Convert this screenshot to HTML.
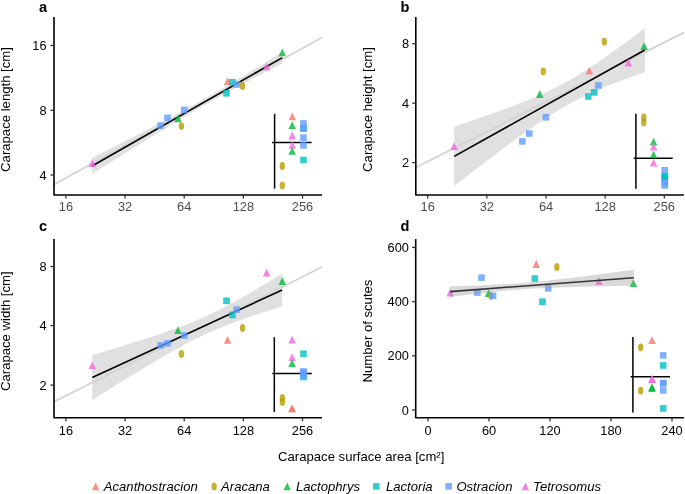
<!DOCTYPE html>
<html><head><meta charset="utf-8"><style>
html,body{margin:0;padding:0;background:#fff;}
svg{display:block;font-family:"Liberation Sans", sans-serif;will-change:transform;}
</style></head><body>
<svg width="685" height="494" viewBox="0 0 685 494">
<rect width="685" height="494" fill="#fff"/>
<text x="39" y="11.7" font-size="14.6" font-weight="bold" fill="#000">a</text>
<text transform="translate(10.1,109.5) rotate(-90)" text-anchor="middle" font-size="13.13" fill="#000">Carapace length [cm]</text>
<path d="M92.10 158.10 L96.98 155.60 L101.85 153.10 L106.73 150.60 L111.61 148.10 L116.48 145.60 L121.36 143.09 L126.24 140.57 L131.12 138.05 L135.99 135.53 L140.87 133.00 L145.75 130.47 L150.62 127.92 L155.50 125.37 L160.38 122.81 L165.25 120.23 L170.13 117.64 L175.01 115.04 L179.88 112.41 L184.76 109.77 L189.64 107.10 L194.52 104.40 L199.39 101.68 L204.27 98.93 L209.15 96.14 L214.02 93.33 L218.90 90.49 L223.78 87.62 L228.65 84.72 L233.53 81.80 L238.41 78.86 L243.28 75.90 L248.16 72.93 L253.04 69.94 L257.92 66.94 L262.79 63.93 L267.67 60.91 L272.55 57.89 L277.42 54.86 L282.30 51.82 L282.30 63.38 L277.42 65.90 L272.55 68.43 L267.67 70.96 L262.79 73.50 L257.92 76.05 L253.04 78.61 L248.16 81.19 L243.28 83.77 L238.41 86.37 L233.53 88.99 L228.65 91.63 L223.78 94.29 L218.90 96.98 L214.02 99.70 L209.15 102.44 L204.27 105.22 L199.39 108.02 L194.52 110.86 L189.64 113.72 L184.76 116.61 L179.88 119.52 L175.01 122.46 L170.13 125.41 L165.25 128.38 L160.38 131.37 L155.50 134.36 L150.62 137.37 L145.75 140.38 L140.87 143.41 L135.99 146.44 L131.12 149.47 L126.24 152.51 L121.36 155.56 L116.48 158.61 L111.61 161.66 L106.73 164.72 L101.85 167.78 L96.98 170.84 L92.10 173.90Z" fill="#999999" fill-opacity="0.3"/>
<line x1="54" y1="184.6" x2="322" y2="37.6" stroke="#D3D3D3" stroke-width="1.75"/>
<line x1="92.1" y1="166.0" x2="282.3" y2="57.6" stroke="#000" stroke-width="1.6"/>
<path d="M92.30 159.30L96.05 167.10L88.55 167.10Z" fill="#F564E3" fill-opacity="0.8"/>
<rect x="157.30" y="122.30" width="6.6" height="6.6" fill="#619CFF" fill-opacity="0.8"/>
<rect x="164.20" y="114.50" width="6.6" height="6.6" fill="#619CFF" fill-opacity="0.8"/>
<path d="M178.00 114.50L181.75 122.30L174.25 122.30Z" fill="#00BA38" fill-opacity="0.8"/>
<ellipse cx="181.40" cy="126.10" rx="2.7" ry="3.9" fill="#B79F00" fill-opacity="0.8"/>
<rect x="180.90" y="106.60" width="6.6" height="6.6" fill="#619CFF" fill-opacity="0.8"/>
<path d="M227.60 77.30L231.35 85.10L223.85 85.10Z" fill="#F8766D" fill-opacity="0.8"/>
<rect x="229.10" y="78.90" width="6.6" height="6.6" fill="#00BFC4" fill-opacity="0.8"/>
<rect x="233.30" y="81.20" width="6.6" height="6.6" fill="#619CFF" fill-opacity="0.8"/>
<ellipse cx="242.50" cy="86.00" rx="2.7" ry="3.9" fill="#B79F00" fill-opacity="0.8"/>
<rect x="223.20" y="90.00" width="6.6" height="6.6" fill="#00BFC4" fill-opacity="0.8"/>
<path d="M266.60 62.50L270.35 70.30L262.85 70.30Z" fill="#F564E3" fill-opacity="0.8"/>
<path d="M282.30 48.50L286.05 56.30L278.55 56.30Z" fill="#00BA38" fill-opacity="0.8"/>
<path d="M54 17L54 195L322 195" fill="none" stroke="#000" stroke-width="1.6" stroke-linejoin="round"/>
<line x1="50.4" y1="45.5" x2="54" y2="45.5" stroke="#333" stroke-width="1.3"/>
<text x="46.60" y="50.00" text-anchor="end" fill="#000" font-size="12.8">16</text>
<line x1="50.4" y1="110.3" x2="54" y2="110.3" stroke="#333" stroke-width="1.3"/>
<text x="46.60" y="114.80" text-anchor="end" fill="#000" font-size="12.8">8</text>
<line x1="50.4" y1="175" x2="54" y2="175" stroke="#333" stroke-width="1.3"/>
<text x="46.60" y="179.50" text-anchor="end" fill="#000" font-size="12.8">4</text>
<line x1="65.9" y1="195" x2="65.9" y2="198.6" stroke="#333" stroke-width="1.3"/>
<text x="65.9" y="211.30" text-anchor="middle" fill="#4D4D4D" font-size="12.8">16</text>
<line x1="125.05" y1="195" x2="125.05" y2="198.6" stroke="#333" stroke-width="1.3"/>
<text x="125.05" y="211.30" text-anchor="middle" fill="#4D4D4D" font-size="12.8">32</text>
<line x1="184.2" y1="195" x2="184.2" y2="198.6" stroke="#333" stroke-width="1.3"/>
<text x="184.2" y="211.30" text-anchor="middle" fill="#4D4D4D" font-size="12.8">64</text>
<line x1="243.35" y1="195" x2="243.35" y2="198.6" stroke="#333" stroke-width="1.3"/>
<text x="243.35" y="211.30" text-anchor="middle" fill="#4D4D4D" font-size="12.8">128</text>
<line x1="302.5" y1="195" x2="302.5" y2="198.6" stroke="#333" stroke-width="1.3"/>
<text x="302.5" y="211.30" text-anchor="middle" fill="#4D4D4D" font-size="12.8">256</text>
<text x="400.6" y="11.7" font-size="14.6" font-weight="bold" fill="#000">b</text>
<text transform="translate(371.9,109.5) rotate(-90)" text-anchor="middle" font-size="13.13" fill="#000">Carapace height [cm]</text>
<path d="M454.20 126.69 L459.09 125.04 L463.97 123.37 L468.86 121.70 L473.75 120.01 L478.64 118.31 L483.52 116.60 L488.41 114.88 L493.30 113.14 L498.18 111.38 L503.07 109.59 L507.96 107.78 L512.85 105.94 L517.73 104.07 L522.62 102.15 L527.51 100.19 L532.39 98.18 L537.28 96.10 L542.17 93.95 L547.06 91.72 L551.94 89.40 L556.83 86.98 L561.72 84.45 L566.61 81.81 L571.49 79.05 L576.38 76.18 L581.27 73.20 L586.15 70.11 L591.04 66.93 L595.93 63.66 L600.82 60.32 L605.70 56.91 L610.59 53.44 L615.48 49.92 L620.36 46.36 L625.25 42.76 L630.14 39.13 L635.03 35.47 L639.91 31.78 L644.80 28.08 L644.80 71.92 L639.91 73.67 L635.03 75.45 L630.14 77.24 L625.25 79.07 L620.36 80.92 L615.48 82.82 L610.59 84.76 L605.70 86.74 L600.82 88.79 L595.93 90.90 L591.04 93.09 L586.15 95.36 L581.27 97.73 L576.38 100.21 L571.49 102.79 L566.61 105.49 L561.72 108.31 L556.83 111.23 L551.94 114.27 L547.06 117.41 L542.17 120.63 L537.28 123.94 L532.39 127.32 L527.51 130.76 L522.62 134.26 L517.73 137.80 L512.85 141.38 L507.96 145.00 L503.07 148.64 L498.18 152.32 L493.30 156.01 L488.41 159.73 L483.52 163.46 L478.64 167.20 L473.75 170.96 L468.86 174.73 L463.97 178.52 L459.09 182.31 L454.20 186.11Z" fill="#999999" fill-opacity="0.3"/>
<line x1="415.8" y1="167.5" x2="683.8" y2="32.6" stroke="#D3D3D3" stroke-width="1.75"/>
<line x1="454.2" y1="156.4" x2="644.8" y2="50.0" stroke="#000" stroke-width="1.6"/>
<path d="M454.10 142.30L457.85 150.10L450.35 150.10Z" fill="#F564E3" fill-opacity="0.8"/>
<rect x="519.10" y="138.10" width="6.6" height="6.6" fill="#619CFF" fill-opacity="0.8"/>
<rect x="526.00" y="130.20" width="6.6" height="6.6" fill="#619CFF" fill-opacity="0.8"/>
<path d="M539.80 90.10L543.55 97.90L536.05 97.90Z" fill="#00BA38" fill-opacity="0.8"/>
<ellipse cx="543.20" cy="71.30" rx="2.7" ry="3.9" fill="#B79F00" fill-opacity="0.8"/>
<rect x="542.70" y="114.00" width="6.6" height="6.6" fill="#619CFF" fill-opacity="0.8"/>
<path d="M589.40 66.70L593.15 74.50L585.65 74.50Z" fill="#F8766D" fill-opacity="0.8"/>
<rect x="590.90" y="89.10" width="6.6" height="6.6" fill="#00BFC4" fill-opacity="0.8"/>
<rect x="595.10" y="82.20" width="6.6" height="6.6" fill="#619CFF" fill-opacity="0.8"/>
<ellipse cx="604.30" cy="41.70" rx="2.7" ry="3.9" fill="#B79F00" fill-opacity="0.8"/>
<rect x="585.00" y="93.20" width="6.6" height="6.6" fill="#00BFC4" fill-opacity="0.8"/>
<path d="M628.40 58.60L632.15 66.40L624.65 66.40Z" fill="#F564E3" fill-opacity="0.8"/>
<path d="M644.10 42.30L647.85 50.10L640.35 50.10Z" fill="#00BA38" fill-opacity="0.8"/>
<path d="M415.8 17L415.8 195L683.8 195" fill="none" stroke="#000" stroke-width="1.6" stroke-linejoin="round"/>
<line x1="412.2" y1="43.7" x2="415.8" y2="43.7" stroke="#333" stroke-width="1.3"/>
<text x="409.00" y="48.20" text-anchor="end" fill="#000" font-size="12.8">8</text>
<line x1="412.2" y1="103.2" x2="415.8" y2="103.2" stroke="#333" stroke-width="1.3"/>
<text x="409.00" y="107.70" text-anchor="end" fill="#000" font-size="12.8">4</text>
<line x1="412.2" y1="162.6" x2="415.8" y2="162.6" stroke="#333" stroke-width="1.3"/>
<text x="409.00" y="167.10" text-anchor="end" fill="#000" font-size="12.8">2</text>
<line x1="427.70000000000005" y1="195" x2="427.70000000000005" y2="198.6" stroke="#333" stroke-width="1.3"/>
<text x="427.70000000000005" y="211.30" text-anchor="middle" fill="#4D4D4D" font-size="12.8">16</text>
<line x1="486.85" y1="195" x2="486.85" y2="198.6" stroke="#333" stroke-width="1.3"/>
<text x="486.85" y="211.30" text-anchor="middle" fill="#4D4D4D" font-size="12.8">32</text>
<line x1="546.0" y1="195" x2="546.0" y2="198.6" stroke="#333" stroke-width="1.3"/>
<text x="546.0" y="211.30" text-anchor="middle" fill="#4D4D4D" font-size="12.8">64</text>
<line x1="605.15" y1="195" x2="605.15" y2="198.6" stroke="#333" stroke-width="1.3"/>
<text x="605.15" y="211.30" text-anchor="middle" fill="#4D4D4D" font-size="12.8">128</text>
<line x1="664.3" y1="195" x2="664.3" y2="198.6" stroke="#333" stroke-width="1.3"/>
<text x="664.3" y="211.30" text-anchor="middle" fill="#4D4D4D" font-size="12.8">256</text>
<text x="39" y="231.1" font-size="14.6" font-weight="bold" fill="#000">c</text>
<text transform="translate(10.1,331.2) rotate(-90)" text-anchor="middle" font-size="13.13" fill="#000">Carapace width [cm]</text>
<path d="M92.30 355.06 L97.17 353.63 L102.04 352.18 L106.91 350.73 L111.78 349.27 L116.65 347.80 L121.52 346.33 L126.38 344.84 L131.25 343.34 L136.12 341.82 L140.99 340.29 L145.86 338.74 L150.73 337.16 L155.60 335.56 L160.47 333.93 L165.34 332.27 L170.21 330.57 L175.08 328.81 L179.95 327.01 L184.82 325.15 L189.68 323.22 L194.55 321.21 L199.42 319.13 L204.29 316.96 L209.16 314.70 L214.03 312.36 L218.90 309.94 L223.77 307.43 L228.64 304.86 L233.51 302.21 L238.38 299.51 L243.25 296.76 L248.12 293.97 L252.98 291.13 L257.85 288.27 L262.72 285.37 L267.59 282.45 L272.46 279.51 L277.33 276.55 L282.20 273.58 L282.20 306.42 L277.33 307.93 L272.46 309.46 L267.59 311.01 L262.72 312.58 L257.85 314.17 L252.98 315.79 L248.12 317.44 L243.25 319.13 L238.38 320.87 L233.51 322.66 L228.64 324.50 L223.77 326.41 L218.90 328.40 L214.03 330.46 L209.16 332.60 L204.29 334.84 L199.42 337.15 L194.55 339.56 L189.68 342.04 L184.82 344.59 L179.95 347.22 L175.08 349.90 L170.21 352.64 L165.34 355.42 L160.47 358.25 L155.60 361.10 L150.73 363.99 L145.86 366.90 L140.99 369.84 L136.12 372.79 L131.25 375.77 L126.38 378.75 L121.52 381.75 L116.65 384.76 L111.78 387.78 L106.91 390.81 L102.04 393.84 L97.17 396.89 L92.30 399.94Z" fill="#999999" fill-opacity="0.3"/>
<line x1="54" y1="401.7" x2="322" y2="267.0" stroke="#D3D3D3" stroke-width="1.75"/>
<line x1="92.3" y1="377.5" x2="282.2" y2="290" stroke="#000" stroke-width="1.6"/>
<path d="M92.30 361.50L96.05 369.30L88.55 369.30Z" fill="#F564E3" fill-opacity="0.8"/>
<rect x="157.30" y="342.10" width="6.6" height="6.6" fill="#619CFF" fill-opacity="0.8"/>
<rect x="164.20" y="340.10" width="6.6" height="6.6" fill="#619CFF" fill-opacity="0.8"/>
<path d="M178.00 326.20L181.75 334.00L174.25 334.00Z" fill="#00BA38" fill-opacity="0.8"/>
<ellipse cx="181.40" cy="354.00" rx="2.7" ry="3.9" fill="#B79F00" fill-opacity="0.8"/>
<rect x="180.90" y="332.20" width="6.6" height="6.6" fill="#619CFF" fill-opacity="0.8"/>
<path d="M227.60 335.90L231.35 343.70L223.85 343.70Z" fill="#F8766D" fill-opacity="0.8"/>
<rect x="229.10" y="311.70" width="6.6" height="6.6" fill="#00BFC4" fill-opacity="0.8"/>
<rect x="233.30" y="306.40" width="6.6" height="6.6" fill="#619CFF" fill-opacity="0.8"/>
<ellipse cx="242.50" cy="328.00" rx="2.7" ry="3.9" fill="#B79F00" fill-opacity="0.8"/>
<rect x="223.20" y="297.50" width="6.6" height="6.6" fill="#00BFC4" fill-opacity="0.8"/>
<path d="M266.60 268.70L270.35 276.50L262.85 276.50Z" fill="#F564E3" fill-opacity="0.8"/>
<path d="M282.30 277.30L286.05 285.10L278.55 285.10Z" fill="#00BA38" fill-opacity="0.8"/>
<path d="M54 239L54 417.7L322 417.7" fill="none" stroke="#000" stroke-width="1.6" stroke-linejoin="round"/>
<line x1="50.4" y1="266.5" x2="54" y2="266.5" stroke="#333" stroke-width="1.3"/>
<text x="46.60" y="271.00" text-anchor="end" fill="#000" font-size="12.8">8</text>
<line x1="50.4" y1="325.6" x2="54" y2="325.6" stroke="#333" stroke-width="1.3"/>
<text x="46.60" y="330.10" text-anchor="end" fill="#000" font-size="12.8">4</text>
<line x1="50.4" y1="385.1" x2="54" y2="385.1" stroke="#333" stroke-width="1.3"/>
<text x="46.60" y="389.60" text-anchor="end" fill="#000" font-size="12.8">2</text>
<line x1="65.9" y1="417.7" x2="65.9" y2="421.3" stroke="#333" stroke-width="1.3"/>
<text x="65.9" y="434.60" text-anchor="middle" fill="#000" font-size="12.8">16</text>
<line x1="125.05" y1="417.7" x2="125.05" y2="421.3" stroke="#333" stroke-width="1.3"/>
<text x="125.05" y="434.60" text-anchor="middle" fill="#000" font-size="12.8">32</text>
<line x1="184.2" y1="417.7" x2="184.2" y2="421.3" stroke="#333" stroke-width="1.3"/>
<text x="184.2" y="434.60" text-anchor="middle" fill="#000" font-size="12.8">64</text>
<line x1="243.35" y1="417.7" x2="243.35" y2="421.3" stroke="#333" stroke-width="1.3"/>
<text x="243.35" y="434.60" text-anchor="middle" fill="#000" font-size="12.8">128</text>
<line x1="302.5" y1="417.7" x2="302.5" y2="421.3" stroke="#333" stroke-width="1.3"/>
<text x="302.5" y="434.60" text-anchor="middle" fill="#000" font-size="12.8">256</text>
<text x="400.6" y="231.1" font-size="14.6" font-weight="bold" fill="#000">d</text>
<text transform="translate(371.9,331) rotate(-90)" text-anchor="middle" font-size="13.13" fill="#000">Number of scutes</text>
<path d="M450.17 288.60L453.92 296.40L446.42 296.40Z" fill="#F564E3" fill-opacity="0.8"/>
<rect x="474.05" y="289.30" width="6.6" height="6.6" fill="#619CFF" fill-opacity="0.8"/>
<rect x="478.20" y="274.30" width="6.6" height="6.6" fill="#619CFF" fill-opacity="0.8"/>
<path d="M488.51 289.30L492.26 297.10L484.76 297.10Z" fill="#00BA38" fill-opacity="0.8"/>
<ellipse cx="490.97" cy="295.80" rx="2.7" ry="3.9" fill="#B79F00" fill-opacity="0.8"/>
<rect x="489.77" y="292.50" width="6.6" height="6.6" fill="#619CFF" fill-opacity="0.8"/>
<path d="M536.20 260.10L539.95 267.90L532.45 267.90Z" fill="#F8766D" fill-opacity="0.8"/>
<rect x="539.17" y="298.40" width="6.6" height="6.6" fill="#00BFC4" fill-opacity="0.8"/>
<rect x="544.94" y="285.00" width="6.6" height="6.6" fill="#619CFF" fill-opacity="0.8"/>
<ellipse cx="556.85" cy="267.00" rx="2.7" ry="3.9" fill="#B79F00" fill-opacity="0.8"/>
<rect x="531.52" y="275.20" width="6.6" height="6.6" fill="#00BFC4" fill-opacity="0.8"/>
<path d="M598.89 277.10L602.64 284.90L595.14 284.90Z" fill="#F564E3" fill-opacity="0.8"/>
<path d="M633.41 279.30L637.16 287.10L629.66 287.10Z" fill="#00BA38" fill-opacity="0.8"/>
<path d="M450.10 286.27 L454.81 286.15 L459.52 286.02 L464.23 285.89 L468.94 285.74 L473.65 285.59 L478.36 285.43 L483.07 285.25 L487.78 285.05 L492.49 284.84 L497.20 284.61 L501.91 284.36 L506.62 284.08 L511.33 283.78 L516.04 283.45 L520.75 283.09 L525.46 282.70 L530.17 282.29 L534.88 281.85 L539.59 281.38 L544.31 280.90 L549.02 280.39 L553.73 279.87 L558.44 279.34 L563.15 278.79 L567.86 278.22 L572.57 277.65 L577.28 277.07 L581.99 276.48 L586.70 275.89 L591.41 275.29 L596.12 274.69 L600.83 274.08 L605.54 273.46 L610.25 272.85 L614.96 272.23 L619.67 271.60 L624.38 270.98 L629.09 270.35 L633.80 269.72 L633.80 285.68 L629.09 285.76 L624.38 285.85 L619.67 285.93 L614.96 286.03 L610.25 286.12 L605.54 286.21 L600.83 286.31 L596.12 286.42 L591.41 286.53 L586.70 286.64 L581.99 286.76 L577.28 286.88 L572.57 287.01 L567.86 287.16 L563.15 287.31 L558.44 287.47 L553.73 287.65 L549.02 287.84 L544.31 288.05 L539.59 288.27 L534.88 288.52 L530.17 288.80 L525.46 289.09 L520.75 289.42 L516.04 289.77 L511.33 290.16 L506.62 290.57 L501.91 291.00 L497.20 291.46 L492.49 291.94 L487.78 292.44 L483.07 292.96 L478.36 293.50 L473.65 294.04 L468.94 294.60 L464.23 295.17 L459.52 295.75 L454.81 296.34 L450.10 296.93Z" fill="#999999" fill-opacity="0.37"/>
<line x1="450.1" y1="291.6" x2="633.8" y2="277.7" stroke="#333" stroke-width="1.6"/>
<path d="M415.7 239L415.7 417.8L683.9 417.8" fill="none" stroke="#000" stroke-width="1.6" stroke-linejoin="round"/>
<line x1="412.09999999999997" y1="410.0" x2="415.7" y2="410.0" stroke="#333" stroke-width="1.3"/>
<text x="408.90" y="414.50" text-anchor="end" fill="#000" font-size="12.8">0</text>
<line x1="412.09999999999997" y1="355.8" x2="415.7" y2="355.8" stroke="#333" stroke-width="1.3"/>
<text x="408.90" y="360.30" text-anchor="end" fill="#000" font-size="12.8">200</text>
<line x1="412.09999999999997" y1="301.6" x2="415.7" y2="301.6" stroke="#333" stroke-width="1.3"/>
<text x="408.90" y="306.10" text-anchor="end" fill="#000" font-size="12.8">400</text>
<line x1="412.09999999999997" y1="247.4" x2="415.7" y2="247.4" stroke="#333" stroke-width="1.3"/>
<text x="408.90" y="251.90" text-anchor="end" fill="#000" font-size="12.8">600</text>
<line x1="428" y1="417.8" x2="428" y2="421.40000000000003" stroke="#333" stroke-width="1.3"/>
<text x="428" y="434.70" text-anchor="middle" fill="#000" font-size="12.8">0</text>
<line x1="489" y1="417.8" x2="489" y2="421.40000000000003" stroke="#333" stroke-width="1.3"/>
<text x="489" y="434.70" text-anchor="middle" fill="#000" font-size="12.8">60</text>
<line x1="550" y1="417.8" x2="550" y2="421.40000000000003" stroke="#333" stroke-width="1.3"/>
<text x="550" y="434.70" text-anchor="middle" fill="#000" font-size="12.8">120</text>
<line x1="611" y1="417.8" x2="611" y2="421.40000000000003" stroke="#333" stroke-width="1.3"/>
<text x="611" y="434.70" text-anchor="middle" fill="#000" font-size="12.8">180</text>
<line x1="672" y1="417.8" x2="672" y2="421.40000000000003" stroke="#333" stroke-width="1.3"/>
<text x="672" y="434.70" text-anchor="middle" fill="#000" font-size="12.8">240</text>
<line x1="274.6" y1="113.8" x2="274.6" y2="188.7" stroke="#000" stroke-width="1.5"/>
<line x1="272.1" y1="142.5" x2="311.6" y2="142.5" stroke="#000" stroke-width="1.5"/>
<ellipse cx="282.30" cy="166.00" rx="2.7" ry="3.9" fill="#B79F00" fill-opacity="0.8"/>
<ellipse cx="282.30" cy="185.40" rx="2.7" ry="3.9" fill="#B79F00" fill-opacity="0.8"/>
<path d="M292.20 112.40L295.95 120.20L288.45 120.20Z" fill="#F8766D" fill-opacity="0.8"/>
<path d="M292.20 121.30L295.95 129.10L288.45 129.10Z" fill="#00BA38" fill-opacity="0.8"/>
<path d="M292.20 131.60L295.95 139.40L288.45 139.40Z" fill="#F564E3" fill-opacity="0.8"/>
<path d="M292.20 141.00L295.95 148.80L288.45 148.80Z" fill="#F564E3" fill-opacity="0.8"/>
<path d="M292.20 147.00L295.95 154.80L288.45 154.80Z" fill="#00BA38" fill-opacity="0.8"/>
<rect x="300.20" y="156.70" width="6.6" height="6.6" fill="#00BFC4" fill-opacity="0.8"/>
<rect x="300.20" y="125.30" width="6.6" height="6.6" fill="#00BFC4" fill-opacity="0.8"/>
<rect x="300.20" y="120.10" width="6.6" height="6.6" fill="#619CFF" fill-opacity="0.8"/>
<rect x="300.20" y="125.30" width="6.6" height="6.6" fill="#619CFF" fill-opacity="0.8"/>
<rect x="300.20" y="134.30" width="6.6" height="6.6" fill="#619CFF" fill-opacity="0.8"/>
<rect x="300.20" y="142.10" width="6.6" height="6.6" fill="#619CFF" fill-opacity="0.8"/>
<line x1="635.9" y1="113.7" x2="635.9" y2="188.8" stroke="#000" stroke-width="1.5"/>
<line x1="633.7" y1="158.3" x2="672.7" y2="158.3" stroke="#000" stroke-width="1.5"/>
<ellipse cx="643.80" cy="117.30" rx="2.7" ry="3.9" fill="#B79F00" fill-opacity="0.8"/>
<ellipse cx="643.80" cy="122.50" rx="2.7" ry="3.9" fill="#B79F00" fill-opacity="0.8"/>
<path d="M653.60 137.80L657.35 145.60L649.85 145.60Z" fill="#00BA38" fill-opacity="0.8"/>
<path d="M653.60 142.80L657.35 150.60L649.85 150.60Z" fill="#F564E3" fill-opacity="0.8"/>
<path d="M653.60 150.40L657.35 158.20L649.85 158.20Z" fill="#00BA38" fill-opacity="0.8"/>
<path d="M653.60 158.80L657.35 166.60L649.85 166.60Z" fill="#F564E3" fill-opacity="0.8"/>
<rect x="661.50" y="167.00" width="6.6" height="6.6" fill="#619CFF" fill-opacity="0.8"/>
<rect x="661.50" y="175.70" width="6.6" height="6.6" fill="#619CFF" fill-opacity="0.8"/>
<rect x="661.50" y="179.70" width="6.6" height="6.6" fill="#619CFF" fill-opacity="0.8"/>
<rect x="661.50" y="182.20" width="6.6" height="6.6" fill="#619CFF" fill-opacity="0.8"/>
<rect x="661.50" y="172.90" width="6.6" height="6.6" fill="#00BFC4" fill-opacity="0.8"/>
<rect x="661.50" y="173.20" width="6.6" height="6.6" fill="#00BFC4" fill-opacity="0.8"/>
<line x1="274.3" y1="337.2" x2="274.3" y2="412.1" stroke="#000" stroke-width="1.5"/>
<line x1="272.3" y1="373.6" x2="311.8" y2="373.6" stroke="#000" stroke-width="1.5"/>
<ellipse cx="282.40" cy="398.00" rx="2.7" ry="3.9" fill="#B79F00" fill-opacity="0.8"/>
<ellipse cx="282.40" cy="402.00" rx="2.7" ry="3.9" fill="#B79F00" fill-opacity="0.8"/>
<path d="M292.10 335.80L295.85 343.60L288.35 343.60Z" fill="#F564E3" fill-opacity="0.8"/>
<path d="M292.10 353.30L295.85 361.10L288.35 361.10Z" fill="#F564E3" fill-opacity="0.8"/>
<path d="M292.10 359.20L295.85 367.00L288.35 367.00Z" fill="#00BA38" fill-opacity="0.8"/>
<path d="M292.10 404.40L295.85 412.20L288.35 412.20Z" fill="#F8766D" fill-opacity="0.8"/>
<path d="M292.10 404.40L295.85 412.20L288.35 412.20Z" fill="#F8766D" fill-opacity="0.8"/>
<rect x="300.20" y="350.40" width="6.6" height="6.6" fill="#00BFC4" fill-opacity="0.8"/>
<rect x="300.20" y="373.70" width="6.6" height="6.6" fill="#00BFC4" fill-opacity="0.8"/>
<rect x="300.20" y="368.20" width="6.6" height="6.6" fill="#619CFF" fill-opacity="0.8"/>
<rect x="300.20" y="371.70" width="6.6" height="6.6" fill="#619CFF" fill-opacity="0.8"/>
<rect x="300.20" y="370.70" width="6.6" height="6.6" fill="#619CFF" fill-opacity="0.8"/>
<rect x="300.20" y="369.70" width="6.6" height="6.6" fill="#619CFF" fill-opacity="0.8"/>
<line x1="632.9" y1="336.9" x2="632.9" y2="412.5" stroke="#000" stroke-width="1.5"/>
<line x1="630.6" y1="376.7" x2="670" y2="376.7" stroke="#000" stroke-width="1.5"/>
<ellipse cx="640.70" cy="347.30" rx="2.7" ry="3.9" fill="#B79F00" fill-opacity="0.8"/>
<ellipse cx="640.70" cy="390.70" rx="2.7" ry="3.9" fill="#B79F00" fill-opacity="0.8"/>
<path d="M652.00 336.20L655.75 344.00L648.25 344.00Z" fill="#F8766D" fill-opacity="0.8"/>
<path d="M652.00 375.10L655.75 382.90L648.25 382.90Z" fill="#F564E3" fill-opacity="0.8"/>
<path d="M652.00 383.30L655.75 391.10L648.25 391.10Z" fill="#00BA38" fill-opacity="0.8"/>
<path d="M652.00 384.30L655.75 392.10L648.25 392.10Z" fill="#00BA38" fill-opacity="0.8"/>
<path d="M652.00 375.10L655.75 382.90L648.25 382.90Z" fill="#F564E3" fill-opacity="0.8"/>
<rect x="659.90" y="352.10" width="6.6" height="6.6" fill="#619CFF" fill-opacity="0.8"/>
<rect x="659.90" y="362.20" width="6.6" height="6.6" fill="#00BFC4" fill-opacity="0.8"/>
<rect x="659.90" y="379.70" width="6.6" height="6.6" fill="#619CFF" fill-opacity="0.8"/>
<rect x="659.90" y="380.20" width="6.6" height="6.6" fill="#619CFF" fill-opacity="0.8"/>
<rect x="659.90" y="387.20" width="6.6" height="6.6" fill="#619CFF" fill-opacity="0.8"/>
<rect x="659.90" y="405.10" width="6.6" height="6.6" fill="#00BFC4" fill-opacity="0.8"/>
<text x="361.2" y="460.8" text-anchor="middle" font-size="13.13" fill="#000">Carapace surface area [cm²]</text>
<path d="M95.70 482.40L99.45 490.20L91.95 490.20Z" fill="#F8766D" fill-opacity="0.8"/>
<text x="103.8" y="491.1" font-size="13.1" font-style="italic" fill="#000">Acanthostracion</text>
<ellipse cx="214.10" cy="486.40" rx="2.7" ry="3.9" fill="#B79F00" fill-opacity="0.8"/>
<text x="221.1" y="491.1" font-size="13.1" font-style="italic" fill="#000">Aracana</text>
<path d="M287.20 482.40L290.95 490.20L283.45 490.20Z" fill="#00BA38" fill-opacity="0.8"/>
<text x="296" y="491.1" font-size="13.1" font-style="italic" fill="#000">Lactophrys</text>
<rect x="373.00" y="483.10" width="6.6" height="6.6" fill="#00BFC4" fill-opacity="0.8"/>
<text x="386" y="491.1" font-size="13.1" font-style="italic" fill="#000">Lactoria</text>
<rect x="445.40" y="483.10" width="6.6" height="6.6" fill="#619CFF" fill-opacity="0.8"/>
<text x="456.4" y="491.1" font-size="13.1" font-style="italic" fill="#000">Ostracion</text>
<path d="M525.40 482.40L529.15 490.20L521.65 490.20Z" fill="#F564E3" fill-opacity="0.8"/>
<text x="533.1" y="491.1" font-size="13.1" font-style="italic" fill="#000">Tetrosomus</text>
</svg></body></html>
